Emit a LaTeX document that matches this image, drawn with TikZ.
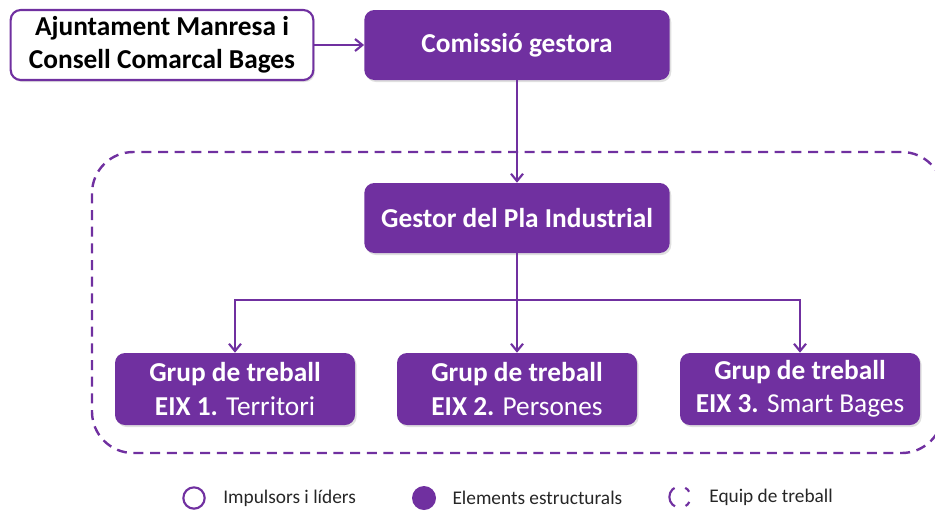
\documentclass[tikz,border=0pt]{standalone}
\usepackage{fontspec}
\setmainfont{Carlito}
\usetikzlibrary{positioning,arrows.meta,shadows}

\definecolor{lila}{RGB}{112,48,160}

\tikzset{
  caixa/.style={rounded corners=7.5pt, inner sep=0pt, align=center,
    font=\bfseries\fontsize{20.5}{25}\selectfont,
    drop shadow={opacity=0.25, shadow xshift=1.2pt, shadow yshift=-1.5pt}},
  ple/.style={caixa, fill=lila, text=white},
  buit/.style={caixa, draw=lila, line width=1.6pt, fill=white, text=black},
  fletxa/.style={draw=lila, line width=1.6pt, -{Straight Barb[length=5.5pt,width=9pt]}},
  simbol/.style={circle, inner sep=0pt, minimum size=16pt},
  llegenda/.style={anchor=west, inner sep=0pt, text=black!85,
    font=\fontsize{14.5}{17}\selectfont}
}

\begin{document}
\begin{tikzpicture}[x=0.75pt,y=-0.75pt]
  \useasboundingbox (0,0) rectangle (935,512);

  % equip de treball
  \draw[lila, line width=1.8pt, dash pattern=on 7.5pt off 5pt, rounded corners=31pt]
    (92,152) rectangle (943,453);

  \node [buit, minimum width=227pt, minimum height=52.5pt] (ajunt) at (162,45)
    {Ajuntament Manresa i\\Consell Comarcal Bages};
  \node [ple, minimum width=229pt, minimum height=52.5pt] (comissio) at (517,45)
    {Comissió gestora};
  \node [ple, minimum width=229pt, minimum height=52.5pt] (gestor) at (517,218)
    {Gestor del Pla Industrial};

  \node [ple, minimum width=180pt, minimum height=54pt] (g1) at (235,389)
    {Grup de treball\\EIX 1. \mdseries Territori};
  \node [ple, minimum width=180pt, minimum height=54pt] (g2) at (517,389)
    {Grup de treball\\EIX 2. \mdseries Persones};
  \node [ple, minimum width=180pt, minimum height=54pt] (g3) at (800,389)
    {Grup de treball\\EIX 3. \mdseries Smart Bages};

  \coordinate (branca) at (517,300);

  \draw[fletxa] (ajunt) -- (comissio);
  \draw[fletxa] (comissio) -- (gestor);
  \draw[fletxa] (gestor) -- (g2);
  \draw[fletxa] (branca) -| (g1.north);
  \draw[fletxa] (branca) -| (g3.north);

  % llegenda
  \node [simbol, draw=lila, line width=1.6pt] (simp) at (194,498) {};
  \node [llegenda, right=13pt of simp] (timp) {Impulsors i líders};
  \node [simbol, fill=lila, minimum size=18pt] (sest) at (424,498) {};
  \node [llegenda, right=12pt of sest] (test) {Elements estructurals};
  \node [simbol, draw=lila, line width=1.6pt,
    dash pattern=on 4.19pt off 8.38pt on 16.76pt off 8.38pt on 4.19pt off 8.38pt,
    dash phase=46.08pt] (sequ) at (680,497) {};
  \node [llegenda, right=13pt of sequ] (tequ) {Equip de treball};
\end{tikzpicture}
\end{document}
